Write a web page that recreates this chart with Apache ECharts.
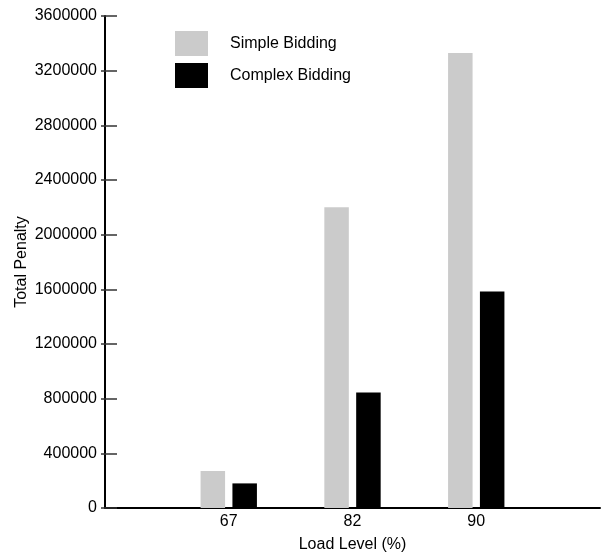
<!DOCTYPE html>
<html>
<head>
<meta charset="utf-8">
<script src="https://cdn.jsdelivr.net/npm/echarts@6/dist/echarts.min.js"></script>
<style>
html,body{margin:0;padding:0;background:#fff;}
#chart{width:602px;height:555px;}
</style>
</head>
<body>
<div id="chart"></div>
<script>
const loadLevels = ['67', '82', '90'];
const simpleBidding = [270000, 2200000, 3330000];
const complexBidding = [180000, 845000, 1585000];
const seriesNames = ['Simple Bidding', 'Complex Bidding'];
const yMin = 0, yMax = 3600000, yInterval = 400000;

const FONT = "'Liberation Sans', Arial, Helvetica, sans-serif";
const axisCats = [''].concat(loadLevels, ['']);
const pad = arr => [null].concat(arr, [null]);

const chart = echarts.init(document.getElementById('chart'), null, {renderer: 'canvas'});
chart.setOption({
  animation: false,
  backgroundColor: '#ffffff',
  textStyle: {fontFamily: FONT, color: '#000'},
  grid: {left: 105, right: 2, top: 16, bottom: 47, containLabel: false, outerBoundsMode: 'none'},
  legend: {
    orient: 'vertical',
    left: 175, top: 31,
    padding: 0,
    itemWidth: 33, itemHeight: 25, itemGap: 7,
    icon: 'rect',
    data: seriesNames,
    textStyle: {fontFamily: FONT, fontSize: 16, color: '#000', padding: [0, 0, 0, 17]}
  },
  xAxis: {
    type: 'category',
    data: axisCats,
    boundaryGap: false,
    name: 'Load Level (%)',
    nameLocation: 'middle',
    nameGap: 29,
    nameMoveOverlap: false,
    nameTextStyle: {fontFamily: FONT, fontSize: 16, color: '#000'},
    axisLine: {lineStyle: {color: '#000', width: 2}},
    axisTick: {show: false},
    axisLabel: {fontFamily: FONT, fontSize: 16, color: '#000', margin: 6, interval: 0},
    splitLine: {show: false}
  },
  yAxis: [{
    type: 'value',
    min: yMin, max: yMax, interval: yInterval,
    name: 'Total Penalty',
    nameLocation: 'middle',
    nameGap: 75,
    nameMoveOverlap: false,
    nameTextStyle: {fontFamily: FONT, fontSize: 16, color: '#000'},
    axisLine: {show: true, lineStyle: {color: '#000', width: 2}},
    axisTick: {show: true, inside: false, length: 4, lineStyle: {color: '#333', width: 1.5}},
    axisLabel: {fontFamily: FONT, fontSize: 16, color: '#000', margin: 8, formatter: v => String(v)},
    splitLine: {show: false}
  }, {
    type: 'value',
    position: 'left',
    offset: 0,
    min: yMin, max: yMax, interval: yInterval,
    axisLine: {show: false},
    axisTick: {show: true, inside: true, length: 12, lineStyle: {color: '#333', width: 1.5}},
    axisLabel: {show: false},
    splitLine: {show: false}
  }],
  series: [{
    name: seriesNames[0],
    type: 'bar',
    data: pad(simpleBidding),
    barWidth: 24.5,
    barGap: '30%',
    itemStyle: {color: '#cbcbcb'}
  }, {
    name: seriesNames[1],
    type: 'bar',
    data: pad(complexBidding),
    barWidth: 24.5,
    barGap: '30%',
    itemStyle: {color: '#000000'}
  }]
});
</script>
</body>
</html>
